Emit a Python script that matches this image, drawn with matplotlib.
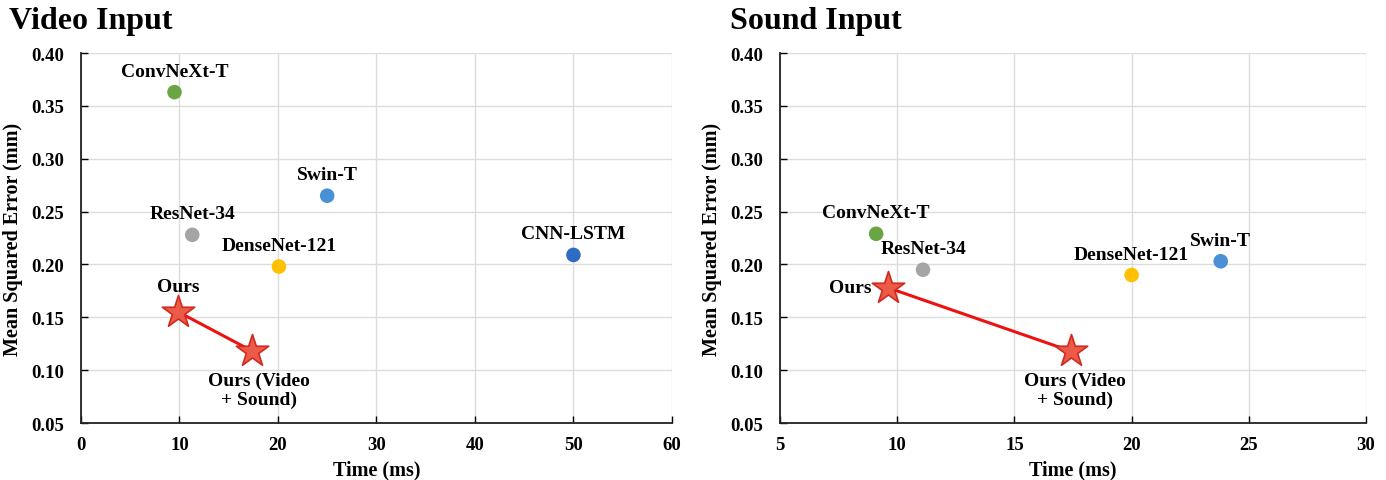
import matplotlib
matplotlib.use("Agg")
import matplotlib.pyplot as plt

plt.rcParams['font.family'] = ['Liberation Serif', 'DejaVu Serif']
plt.rcParams['font.weight'] = 'bold'

# Video input panel
video_models = ["ConvNeXt-T", "ResNet-34", "Swin-T", "DenseNet-121", "CNN-LSTM"]
video_time = [9.5, 11.3, 25.0, 20.1, 50.0]
video_mse = [0.363, 0.228, 0.265, 0.198, 0.209]
video_ours_labels = ["Ours", "Ours (Video\n+ Sound)"]
video_ours_time = [9.9, 17.4]
video_ours_mse = [0.155, 0.118]

# Sound input panel
sound_models = ["ConvNeXt-T", "ResNet-34", "DenseNet-121", "Swin-T"]
sound_time = [9.1, 11.1, 20.0, 23.8]
sound_mse = [0.229, 0.195, 0.190, 0.203]
sound_ours_labels = ["Ours", "Ours (Video\n+ Sound)"]
sound_ours_time = [9.6, 17.4]
sound_ours_mse = [0.178, 0.118]

colors = {"ConvNeXt-T": "#6aa544", "ResNet-34": "#a5a5a5", "Swin-T": "#4a90d6",
          "DenseNet-121": "#ffc000", "CNN-LSTM": "#2e6cc4"}

fig = plt.figure(figsize=(13.86, 4.81), dpi=100)
axL = fig.add_axes([0.0584, 0.1185, 0.4264, 0.7692])
axR = fig.add_axes([0.5628, 0.1185, 0.4228, 0.7692])


def style(ax, xlim, xticks):
    ax.set_xlim(*xlim)
    ax.set_ylim(0.05, 0.40)
    ax.set_xticks(xticks)
    ax.set_yticks([0.05, 0.10, 0.15, 0.20, 0.25, 0.30, 0.35, 0.40])
    ax.set_yticklabels([f"{v:.2f}" for v in ax.get_yticks()])
    ax.grid(True, color="#dcdcdc", linewidth=1.0)
    ax.set_axisbelow(True)
    for s in ["top", "right"]:
        ax.spines[s].set_visible(False)
    for s in ["left", "bottom"]:
        ax.spines[s].set_color("#222222")
        ax.spines[s].set_linewidth(1.3)
    ax.tick_params(direction="in", length=5, width=1.0, labelsize=13.5)
    ax.tick_params(axis="x", pad=9)
    ax.tick_params(axis="y", pad=12)
    for lab in ax.get_xticklabels() + ax.get_yticklabels():
        lab.set_fontweight("bold")
    ax.set_xlabel("Time (ms)", fontsize=14.5, fontweight="bold", labelpad=5)
    ax.set_ylabel("Mean Squared Error (mm)", fontsize=14.5, fontweight="bold", labelpad=6)


style(axL, (0, 60), [0, 10, 20, 30, 40, 50, 60])
style(axR, (5, 30), [5, 10, 15, 20, 25, 30])

lab_kw = dict(fontsize=14, fontweight="bold", textcoords="offset points")

# Left panel points
for name, t, m in zip(video_models, video_time, video_mse):
    axL.scatter(t, m, s=110, color=colors[name], zorder=3, edgecolors="none")
    axL.annotate(name, (t, m), xytext=(0, 9), ha="center", va="bottom", **lab_kw)
axL.plot(video_ours_time, video_ours_mse, color="#ee1111", linewidth=2.2, zorder=3)
axL.scatter(video_ours_time, video_ours_mse, marker="*", s=600, color="#ec5a48",
            edgecolors="#d02a20", linewidths=1.2, zorder=4)
axL.annotate(video_ours_labels[0], (video_ours_time[0], video_ours_mse[0]), xytext=(0, 12),
             ha="center", va="bottom", **lab_kw)
axL.annotate(video_ours_labels[1], (video_ours_time[1], video_ours_mse[1]), xytext=(5, -15),
             ha="center", va="top", linespacing=1.1, **lab_kw)

# Right panel points
for name, t, m in zip(sound_models, sound_time, sound_mse):
    axR.scatter(t, m, s=110, color=colors[name], zorder=3, edgecolors="none")
    axR.annotate(name, (t, m), xytext=(0, 9), ha="center", va="bottom", **lab_kw)
axR.plot(sound_ours_time, sound_ours_mse, color="#ee1111", linewidth=2.2, zorder=3)
axR.scatter(sound_ours_time, sound_ours_mse, marker="*", s=600, color="#ec5a48",
            edgecolors="#d02a20", linewidths=1.2, zorder=4)
axR.annotate(sound_ours_labels[0], (sound_ours_time[0], sound_ours_mse[0]), xytext=(-12, 0),
             ha="right", va="center", **lab_kw)
axR.annotate(sound_ours_labels[1], (sound_ours_time[1], sound_ours_mse[1]), xytext=(3, -15),
             ha="center", va="top", linespacing=1.1, **lab_kw)

fig.text(0.0065, 0.955, "Video Input", fontsize=23, fontweight="bold", ha="left", va="center")
fig.text(0.527, 0.955, "Sound Input", fontsize=23, fontweight="bold", ha="left", va="center")

fig.savefig("out.png", dpi=100)
